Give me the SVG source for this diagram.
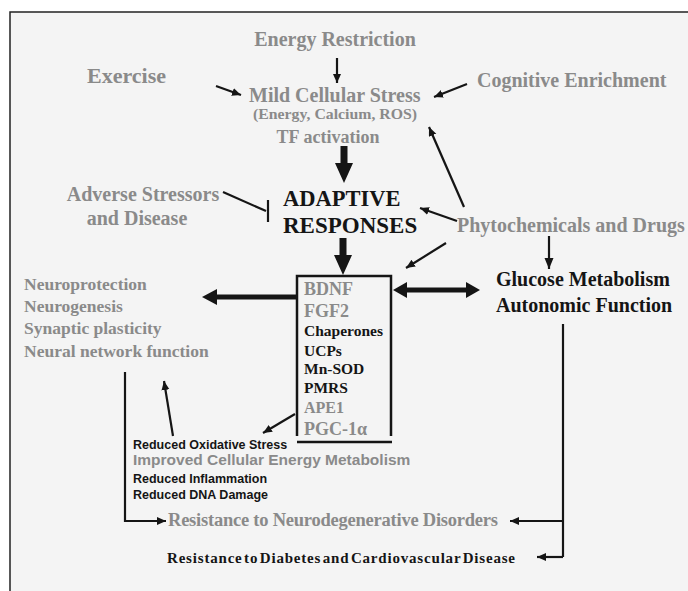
<svg xmlns="http://www.w3.org/2000/svg" width="688" height="591" viewBox="0 0 688 591">
<defs>
<style>
.s{font-family:"Liberation Serif","Times New Roman",serif;font-weight:bold}
.a{font-family:"Liberation Sans",Arial,sans-serif;font-weight:bold}
.g{fill:#8a8a8a}
.k{fill:#151515}
.ln{stroke:#151515;fill:none;stroke-width:2.2}
.fl{fill:#151515;stroke:none}
</style>
<marker id="ah" markerUnits="userSpaceOnUse" markerWidth="12" markerHeight="10" refX="11" refY="4.5" orient="auto">
<path d="M0,0 L11,4.5 L0,9 Z" fill="#151515"/>
</marker>
<marker id="ahs" markerUnits="userSpaceOnUse" markerWidth="10" markerHeight="10" refX="9" refY="4" orient="auto">
<path d="M0,0 L9,4 L0,8 Z" fill="#151515"/>
</marker>
</defs>
<rect x="0" y="0" width="688" height="591" fill="#ffffff"/>
<rect x="10" y="12" width="690" height="600" fill="#f4f4f4" stroke="#222" stroke-width="1.5"/>

<g id="energy-restriction"><text class="s g" x="335" y="46" font-size="20" text-anchor="middle">Energy Restriction</text></g>
<g id="exercise"><text class="s g" x="87" y="83" font-size="22">Exercise</text></g>
<g id="cognitive-enrichment"><text class="s g" x="477" y="87" font-size="20">Cognitive Enrichment</text></g>
<g id="mild-cellular-stress">
<text class="s g" x="249" y="102" font-size="20">Mild Cellular Stress</text>
<text class="s g" x="253" y="119" font-size="15" textLength="164" lengthAdjust="spacingAndGlyphs">(Energy, Calcium, ROS)</text>
<text class="s g" x="328" y="143" font-size="18" text-anchor="middle">TF activation</text>
</g>
<g id="adverse-stressors">
<text class="s g" x="143" y="201" font-size="20" text-anchor="middle">Adverse Stressors</text>
<text class="s g" x="137" y="225" font-size="20" text-anchor="middle">and Disease</text>
</g>
<g id="adaptive-responses">
<text class="s k" x="283" y="206" font-size="22.5">ADAPTIVE</text>
<text class="s k" x="283" y="233" font-size="23">RESPONSES</text>
</g>
<g id="phytochemicals"><text class="s g" x="457" y="232" font-size="20">Phytochemicals and Drugs</text></g>
<g id="glucose-metabolism">
<text class="s k" x="496" y="286" font-size="20">Glucose Metabolism</text>
<text class="s k" x="496" y="312" font-size="20">Autonomic Function</text>
</g>
<g id="neuroprotection">
<text class="s g" x="24" y="290" font-size="17.5">Neuroprotection</text>
<text class="s g" x="24" y="312" font-size="17.5">Neurogenesis</text>
<text class="s g" x="24" y="334" font-size="17.5">Synaptic plasticity</text>
<text class="s g" x="24" y="357" font-size="17.5">Neural network function</text>
</g>
<g id="mediators-box">
<path d="M297,436 V276 H391 V436" fill="none" stroke="#151515" stroke-width="2.5"/>
<path d="M297,442 H392" fill="none" stroke="#151515" stroke-width="2.5"/>
<text class="s g" x="304" y="295" font-size="18">BDNF</text>
<text class="s g" x="304" y="317" font-size="18">FGF2</text>
<text class="s k" x="304" y="336" font-size="15.5">Chaperones</text>
<text class="s k" x="304" y="356" font-size="15.5">UCPs</text>
<text class="s k" x="304" y="374" font-size="15.5">Mn-SOD</text>
<text class="s k" x="304" y="393" font-size="15.5">PMRS</text>
<text class="s g" x="304" y="413" font-size="16">APE1</text>
<text class="s g" x="304" y="435" font-size="18">PGC-1α</text>
</g>
<g id="cellular-effects">
<text class="a k" x="133" y="449" font-size="12.5">Reduced Oxidative Stress</text>
<text class="a g" x="133" y="465" font-size="15.5">Improved Cellular Energy Metabolism</text>
<text class="a k" x="133" y="483" font-size="12.5">Reduced Inflammation</text>
<text class="a k" x="133" y="499" font-size="12.5">Reduced DNA Damage</text>
</g>
<g id="resistance-neuro"><text class="s g" x="168" y="526" font-size="18.5" textLength="330" lengthAdjust="spacing">Resistance to Neurodegenerative Disorders</text></g>
<g id="resistance-diabetes"><text class="s k" x="167" y="563" font-size="15" word-spacing="-3" textLength="348" lengthAdjust="spacing">Resistance to Diabetes and Cardiovascular Disease</text></g>

<g id="connectors">
<line class="ln" x1="337" y1="58" x2="337" y2="83" marker-end="url(#ahs)"/>
<line class="ln" x1="216" y1="86" x2="241" y2="95" stroke-width="2.6" marker-end="url(#ahs)"/>
<line class="ln" x1="467" y1="84" x2="434" y2="97" marker-end="url(#ahs)"/>
<path class="fl" d="M340.5,146 H347.5 V163 H353 L344,183 L335,163 H340.5 Z"/>
<line class="ln" x1="223" y1="192" x2="266" y2="211" stroke-width="2.5"/>
<line class="ln" x1="268" y1="200" x2="268" y2="222" stroke-width="2.5"/>
<line class="ln" x1="464" y1="207" x2="429" y2="127" marker-end="url(#ahs)"/>
<line class="ln" x1="457" y1="221" x2="420" y2="208" stroke-width="2.5" marker-end="url(#ahs)"/>
<line class="ln" x1="446" y1="243" x2="406" y2="268" marker-end="url(#ahs)"/>
<path class="fl" d="M339.5,238 H346.5 V255 H352 L343,275 L334,255 H339.5 Z"/>
<line class="ln" x1="549" y1="236" x2="549" y2="269" stroke-width="3" marker-end="url(#ah)"/>
<path class="fl" d="M296,294.5 V299.5 H217 V305 L202,297 L217,289 V294.5 Z"/>
<path class="fl" d="M393,290 L407,282 V287.5 H466 V282 L480,290 L466,298 V292.5 H407 V298 Z"/>
<line class="ln" x1="295" y1="414" x2="263" y2="433" marker-end="url(#ahs)"/>
<line class="ln" x1="173" y1="436" x2="164" y2="381" marker-end="url(#ahs)"/>
<path class="ln" d="M125,372 V521 H166" marker-end="url(#ahs)"/>
<path class="ln" d="M563,324 V557" stroke-width="2.5"/>
<line class="ln" x1="563" y1="521" x2="510" y2="521" stroke-width="4" marker-end="url(#ahs)"/>
<line class="ln" x1="563" y1="557" x2="537" y2="557" stroke-width="2.5" marker-end="url(#ahs)"/>
</g>
</svg>
